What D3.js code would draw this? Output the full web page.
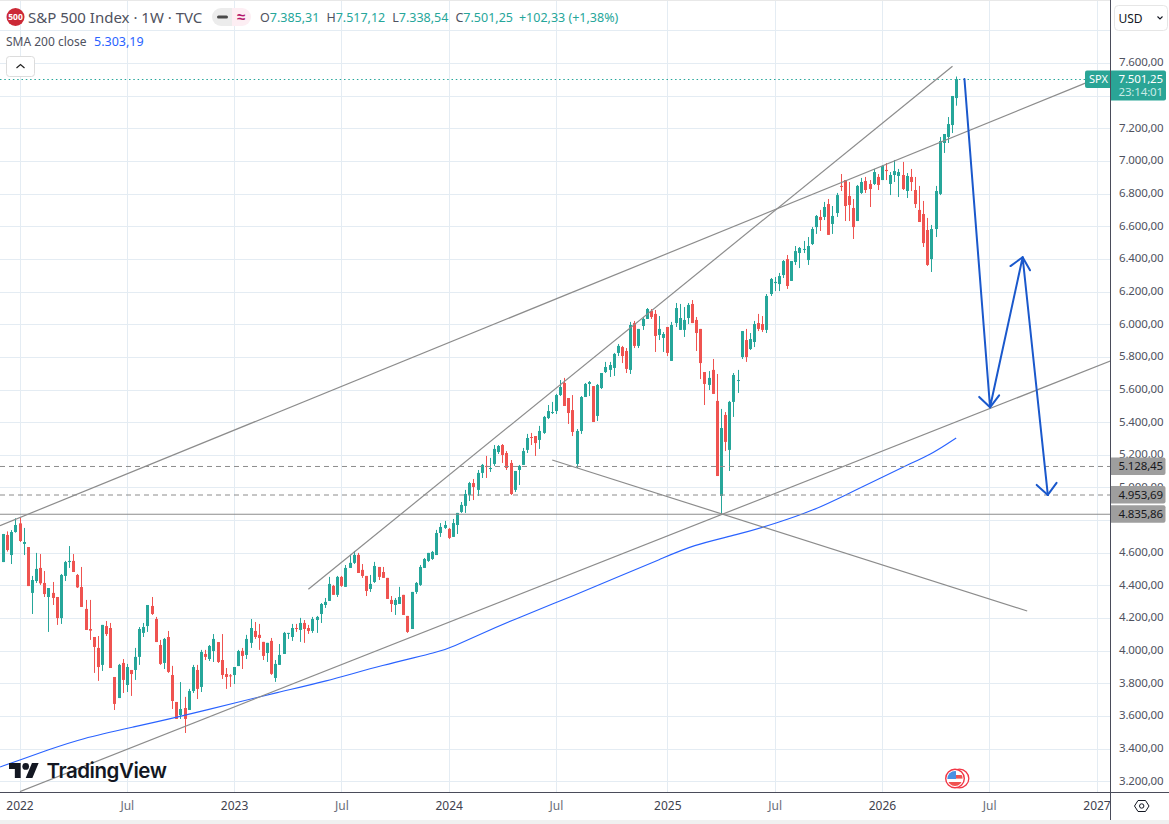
<!DOCTYPE html>
<html>
<head>
<meta charset="utf-8">
<script src="https://cdn.jsdelivr.net/npm/d3@7"></script>
<style>
  html, body { margin: 0; padding: 0; background: #fff; overflow: hidden; }
  svg { display: block; font-family: "Noto Sans", sans-serif; }
</style>
</head>
<body>
<div id="chart"></div>
<script>
// weekly candles [open, high, low, close]
var candles2021 = [
  [4543,4715,4543,4715],[4709,4731,4607,4617],[4586,4739,4531,4727],[4727,4811,4723,4770]
];
var candles2022 = [
  [4780,4817,4666,4672],[4654,4752,4586,4666],[4635,4635,4396,4396],[4354,4458,4225,4433],
  [4427,4599,4415,4501],[4507,4592,4403,4413],[4415,4488,4329,4347],[4329,4384,4115,4384],
  [4354,4421,4280,4323],[4329,4329,4158,4200],[4200,4470,4164,4464],[4458,4550,4427,4543],
  [4543,4641,4507,4550],[4550,4592,4482,4482],[4464,4470,4384,4388],[4390,4513,4268,4268],
  [4256,4311,4127,4127],[4133,4311,4066,4123],[4084,4084,3864,4023],[4017,4090,3815,3900],
  [3913,4158,3876,4158],[4151,4182,4090,4102],[4139,4170,3894,3894],[3839,3839,3637,3674],
  [3710,3919,3710,3913],[3925,3949,3741,3821],[3790,3919,3747,3900],[3882,3882,3723,3857],
  [3882,4017,3821,3962],[3962,4145,3913,4133],[4109,4170,4084,4145],[4151,4280,4115,4280],
  [4274,4329,4219,4225],[4194,4207,4053,4053],[4035,4066,3913,3919],[3925,4078,3888,4072],
  [4084,4121,3864,3870],[3851,3907,3643,3692],[3686,3686,3582,3582],[3606,3808,3582,3643],
  [3649,3717,3496,3582],[3637,3766,3637,3753],[3753,3913,3741,3900],[3882,3913,3704,3766],
  [3778,4005,3747,3992],[3980,4005,3943,3962],[3949,4035,3937,4029],[3998,4102,3931,4072],
  [4053,4053,3925,3931],[3943,4102,3827,3851],[3857,3894,3766,3839],[3849,3857,3778,3845]
];
var candles2023 = [
  [3851,3900,3796,3900],[3906,4005,3906,3998],[3999,4017,3888,3968],[3974,4097,3949,4072],
  [4048,4194,4017,4139],[4121,4176,4072,4084],[4097,4164,4005,4078],[4054,4054,3943,3968],
  [3986,4048,3931,4048],[4060,4078,3852,3858],[3833,3943,3809,3919],[3913,4041,3913,3974],
  [3980,4115,3980,4109],[4103,4109,4072,4109],[4084,4164,4060,4139],[4139,4164,4115,4133],
  [4127,4201,4054,4170],[4170,4188,4048,4133],[4139,4158,4103,4121],[4121,4207,4109,4194],
  [4188,4213,4109,4207],[4225,4292,4170,4286],[4280,4323,4262,4299],[4305,4452,4305,4409],
  [4397,4403,4342,4342],[4342,4458,4329,4452],[4452,4458,4391,4397],[4391,4525,4391,4507],
  [4507,4587,4507,4538],[4538,4611,4531,4587],[4587,4599,4476,4476],[4495,4531,4446,4458],
  [4458,4458,4335,4366],[4378,4464,4360,4409],[4421,4544,4415,4519],[4513,4513,4433,4452],
  [4482,4513,4446,4446],[4446,4446,4317,4317],[4311,4335,4237,4286],[4280,4323,4219,4311],
  [4286,4391,4286,4329],[4342,4342,4219,4219],[4213,4213,4109,4115],[4133,4360,4133,4360],
  [4360,4421,4348,4415],[4403,4525,4397,4513],[4507,4568,4507,4562],[4550,4599,4544,4599],
  [4562,4611,4556,4605],[4586,4740,4586,4721],[4721,4782,4697,4758],[4752,4795,4746,4770]
];
var candles2024 = [
  [4746,4752,4684,4691],[4697,4807,4697,4782],[4770,4844,4715,4844],[4850,4911,4844,4893],
  [4887,4985,4844,4960],[4954,5034,4917,5027],[5027,5052,4923,5003],[4985,5107,4948,5089],
  [5089,5144,5058,5138],[5132,5193,5058,5125],[5113,5181,5095,5119],[5144,5260,5132,5236],
  [5217,5260,5205,5254],[5260,5266,5150,5199],[5211,5223,5107,5119],[5150,5168,4954,4960],
  [4985,5101,4972,5101],[5107,5138,5015,5132],[5138,5242,5138,5223],[5230,5328,5211,5303],
  [5309,5334,5260,5303],[5315,5315,5193,5272],[5291,5377,5236,5346],[5334,5438,5328,5432],
  [5425,5505,5419,5468],[5456,5524,5450,5462],[5468,5573,5450,5566],[5566,5658,5560,5615],
  [5640,5671,5499,5499],[5548,5548,5389,5456],[5474,5566,5315,5340],[5144,5358,5119,5346],
  [5346,5560,5328,5554],[5554,5640,5554,5634],[5634,5652,5560,5646],[5621,5621,5401,5401],
  [5438,5634,5407,5628],[5609,5701,5603,5701],[5707,5769,5701,5738],[5720,5769,5677,5750],
  [5732,5824,5683,5818],[5824,5879,5805,5867],[5860,5867,5762,5805],[5836,5854,5701,5726],
  [5720,6014,5695,5995],[6007,6020,5854,5867],[5867,5971,5854,5971],[5989,6044,5965,6032],
  [6032,6099,6032,6093],[6081,6093,6032,6044],[6063,6087,5830,5928],[5934,6050,5903,5971],
  [5916,5952,5830,5940]
];
var candles2025 = [
  [5983,5983,5805,5824],[5775,6014,5775,5995],[6007,6130,5983,6099],[5965,6124,5965,6038],
  [5965,6105,5922,6026],[6038,6130,6001,6118],[6124,6148,6007,6007],[6026,6044,5836,5946],
  [5971,5971,5664,5762],[5707,5707,5505,5634],[5628,5713,5597,5671],[5720,5787,5573,5573],
  [5530,5695,5070,5070],[4948,5481,4835,5364],[5444,5462,5223,5279],[5230,5530,5101,5524],
  [5524,5701,5432,5689],[5654,5720,5579,5658],[5799,5958,5787,5958],[5903,5971,5769,5799],
  [5848,5946,5842,5909],[5891,6020,5860,6001],[6007,6063,5958,5971],[6001,6050,5952,5965],
  [5965,6185,5946,6173],[6185,6283,6173,6277],[6252,6289,6203,6259],[6246,6314,6203,6295],
  [6301,6393,6283,6387],[6399,6424,6216,6234],[6265,6387,6265,6387],[6381,6479,6363,6448],
  [6436,6473,6344,6467],[6455,6510,6436,6461],[6393,6534,6363,6479],[6491,6595,6485,6583],
  [6595,6669,6553,6663],[6657,6700,6571,6638],[6657,6749,6638,6718],[6736,6767,6547,6547],
  [6614,6724,6553,6663],[6681,6804,6657,6791],[6847,6920,6816,6843],[6883,6883,6632,6724],
  [6785,6871,6632,6730],[6712,6767,6522,6595],[6632,6853,6632,6847],[6804,6896,6798,6871],
  [6877,6902,6804,6822],[6859,6883,6718,6828],[6859,6951,6853,6932],[6902,6920,6822,6853]
];
var candles2026 = [
  [6883,6975,6883,6969],[6945,6987,6883,6938],[6859,6932,6791,6914],[6914,7006,6871,6938],
  [6908,6951,6779,6932],[6914,6994,6822,6828],[6816,6926,6773,6908],[6902,6951,6816,6871],
  [6822,6902,6712,6736],[6700,6847,6626,6626],[6675,6755,6473,6497],[6577,6651,6357,6363],
  [6399,6608,6320,6583],[6583,6847,6534,6816],[6798,7147,6791,7122],[7110,7165,7049,7165],
  [7147,7269,7110,7226],[7220,7398,7171,7398],[7385.31,7517.12,7338.54,7501.25]
];

// SMA 200 close, read at a few weeks (week number counted from firstWeek)
var smaWeeks = [-4.7,0.1,6.9,14.7,28,37.2,53.5,63.2,73.6,88.1,102,105,111.6,121.3,134.7,145.6,155.3,163.2,173.8,183.5,192.3,200.2,209,215.2,221.4,227];
var smaValues = [3288,3331,3392,3460,3535,3586,3688,3749,3807,3913,3994,4025,4101,4207,4341,4458,4560,4648,4709,4781,4858,4954,5062,5138,5209,5303.19];

// drawings on the chart, [week, price]
var trendLines = [
  [[-4.73,4766],[258.3,7477]],
  [[70,4376],[226.1,7580]],
  [[0.12,3137],[264.4,5775]],
  [[129.1,5168],[244.2,4243]]
];
var arrowLeg = [[229,7502],[235.2,5491],[243.1,6410],[249.2,4954]];
var dashedLevels = [5128.45,4953.69];
var solidLevels = [4835.86];
var lastPrice = 7501.25;

// axis ticks
var xTickDates = ["2022-01-03","2022-07-04","2023-01-02","2023-07-03","2024-01-01","2024-07-01","2025-01-06","2025-07-07","2026-01-05","2026-07-06","2027-01-04"];
var xTickLabels = ["2022","Jul","2023","Jul","2024","Jul","2025","Jul","2026","Jul","2027"];
var yGridTicks = [3200,3400,3600,3800,4000,4200,4400,4600,4800,5000,5200,5400,5600,5800,6000,6200,6400,6600,6800,7000,7200,7400,7600,7800];
// 4800 and 7400 sit behind the price tags
var yLabelTicks = [3200,3400,3600,3800,4000,4200,4400,4600,5000,5200,5400,5600,5800,6000,6200,6400,6600,6800,7000,7200,7600];

var width = 1169, height = 824, plotRight = 1110, plotBottom = 792;
var firstWeek = Date.UTC(2022, 0, 3);
var upColor = "#26a69a", downColor = "#ef5350", gridColor = "#e4ecf3", drawColor = "#8c8c8c", arrowColor = "#1a58cc", axisColor = "#4a4c5a", textColor = "#4f5260";

function weekDate(w) { return new Date(firstWeek + w * 7 * 864e5); }
// price with dot thousands and comma decimals
function priceFmt(v) {
  return d3.format(",.2f")(v).replace(/,/g, "#").replace(".", ",").replace(/#/g, ".");
}

var x = d3.scaleUtc()
  .domain([new Date(firstWeek), new Date(Date.UTC(2027, 0, 4))])
  .range([19.5, 1096.5]);
var y = d3.scaleLinear()
  .domain([3200, 7200])
  .range([781.3, 128.3]);

var svg = d3.select("#chart").append("svg")
  .attr("width", width)
  .attr("height", height)
  .attr("viewBox", "0 0 " + width + " " + height);

svg.append("rect").attr("width", width).attr("height", height).attr("fill", "#fff");
svg.append("clipPath").attr("id", "plotClip").append("rect")
  .attr("width", plotRight).attr("height", plotBottom);

// grid
var grid = svg.append("g");
grid.selectAll(".gx").data(xTickDates).enter().append("line")
  .attr("x1", function(d) { return Math.round(x(new Date(d))) + 0.5; })
  .attr("x2", function(d) { return Math.round(x(new Date(d))) + 0.5; })
  .attr("y1", 0).attr("y2", plotBottom)
  .attr("stroke", gridColor);
grid.selectAll(".gy").data(yGridTicks).enter().append("line")
  .attr("x1", 0).attr("x2", plotRight)
  .attr("y1", function(d) { return Math.round(y(d)) + 0.5; })
  .attr("y2", function(d) { return Math.round(y(d)) + 0.5; })
  .attr("stroke", gridColor);
svg.append("line").attr("x1", 0).attr("x2", width).attr("y1", 0.5).attr("y2", 0.5).attr("stroke", "#e8e8e8");

var plot = svg.append("g").attr("clip-path", "url(#plotClip)");

// candles
var candles = [].concat(candles2021, candles2022, candles2023, candles2024, candles2025, candles2026)
  .map(function(c, i) {
    return { date: weekDate(i - 4), open: c[0], high: c[1], low: c[2], close: c[3] };
  });
function candleColor(d) { return d.close >= d.open ? upColor : downColor; }
function candleX(d) { return Math.round(x(d.date)); }

var candle = plot.append("g").selectAll("g").data(candles).enter().append("g");
candle.append("rect")
  .attr("x", function(d) { return candleX(d); })
  .attr("width", 1)
  .attr("y", function(d) { return y(d.high); })
  .attr("height", function(d) { return y(d.low) - y(d.high); })
  .attr("fill", candleColor);
candle.append("rect")
  .attr("x", function(d) { return candleX(d) - 1; })
  .attr("width", 3)
  .attr("y", function(d) { return y(Math.max(d.open, d.close)); })
  .attr("height", function(d) { return Math.max(1, Math.abs(y(d.open) - y(d.close))); })
  .attr("fill", candleColor);

// SMA 200
var priceLine = d3.line()
  .x(function(d) { return x(weekDate(d[0])); })
  .y(function(d) { return y(d[1]); });
var smaLine = d3.line()
  .x(function(d) { return x(weekDate(d[0])); })
  .y(function(d) { return y(d[1]); })
  .curve(d3.curveBasis);
plot.append("path")
  .attr("d", smaLine(d3.zip(smaWeeks, smaValues)))
  .attr("fill", "none")
  .attr("stroke", "#2962ff")
  .attr("stroke-width", 1.1);

// current price dotted line
plot.append("line")
  .attr("x1", 0).attr("x2", 1085)
  .attr("y1", Math.round(y(lastPrice)) + 0.5).attr("y2", Math.round(y(lastPrice)) + 0.5)
  .attr("stroke", "#26a69a")
  .attr("stroke-dasharray", "1.5 2.8");

// levels
plot.selectAll(".dash").data(dashedLevels).enter().append("line")
  .attr("x1", 0).attr("x2", plotRight)
  .attr("y1", function(d) { return y(d); }).attr("y2", function(d) { return y(d); })
  .attr("stroke", drawColor).attr("stroke-width", 1).attr("stroke-dasharray", "5 4");
plot.selectAll(".solid").data(solidLevels).enter().append("line")
  .attr("x1", 0).attr("x2", plotRight)
  .attr("y1", function(d) { return y(d); }).attr("y2", function(d) { return y(d); })
  .attr("stroke", drawColor).attr("stroke-width", 1.2);

// trend lines
plot.selectAll(".trend").data(trendLines).enter().append("path")
  .attr("d", priceLine)
  .attr("fill", "none")
  .attr("stroke", drawColor)
  .attr("stroke-width", 1.2);

// projected move arrows
var arrows = plot.append("g").attr("fill", "none").attr("stroke", arrowColor)
  .attr("stroke-width", 2).attr("stroke-linecap", "round").attr("stroke-linejoin", "round");
arrows.append("path").attr("d", priceLine(arrowLeg));
d3.pairs(arrowLeg).forEach(function(p) {
  var x0 = x(weekDate(p[0][0])), y0 = y(p[0][1]), x1 = x(weekDate(p[1][0])), y1 = y(p[1][1]);
  var a = Math.atan2(y0 - y1, x0 - x1);
  [-0.73, 0.73].forEach(function(off) {
    arrows.append("line")
      .attr("x1", x1).attr("y1", y1)
      .attr("x2", x1 + 15 * Math.cos(a + off))
      .attr("y2", y1 + 15 * Math.sin(a + off));
  });
});

// TradingView logo
var logo = svg.append("g").attr("transform", "translate(9,759.7) scale(0.835)");
logo.append("path").attr("fill", "#131722")
  .attr("d", "M14 22H7V11H0V4h14v18zM28 22h-8l7.5-18h8L28 22z");
logo.append("circle").attr("cx", 20).attr("cy", 8).attr("r", 4).attr("fill", "#131722");
svg.append("text").attr("x", 46.5).attr("y", 778)
  .attr("font-family", "Inter").attr("font-weight", 600).attr("font-size", 20.5).attr("fill", "#131722")
  .attr("letter-spacing", -0.45)
  .text("TradingView");

// flag badge
svg.append("circle").attr("cx", 959.5).attr("cy", 778.5).attr("r", 9.3)
  .attr("fill", "#fff").attr("stroke", "#f23645").attr("stroke-width", 1.3);
svg.append("clipPath").attr("id", "flagClip").append("circle").attr("cx", 955).attr("cy", 778.5).attr("r", 7.6);
svg.append("circle").attr("cx", 955).attr("cy", 778.5).attr("r", 9.3)
  .attr("fill", "#fff").attr("stroke", "#f23645").attr("stroke-width", 1.4);
var flag = svg.append("g").attr("clip-path", "url(#flagClip)");
flag.append("rect").attr("x", 947).attr("y", 770).attr("width", 17).attr("height", 17).attr("fill", "#fff");
flag.append("rect").attr("x", 955).attr("y", 775).attr("width", 9).attr("height", 3.6).attr("fill", "#f0524f");
flag.append("rect").attr("x", 947).attr("y", 782).attr("width", 17).attr("height", 6).attr("fill", "#f0524f");
flag.append("rect").attr("x", 947).attr("y", 770).attr("width", 9).attr("height", 9).attr("fill", "#4a90e2");

// x axis
svg.append("rect").attr("x", 0).attr("y", plotBottom).attr("width", width).attr("height", height - plotBottom).attr("fill", "#fff");
var xAxis = svg.append("g")
  .attr("transform", "translate(0," + plotBottom + ")")
  .call(d3.axisBottom(x)
    .tickValues(xTickDates.map(function(d) { return new Date(d); }))
    .tickSize(0)
    .tickPadding(9)
    .tickFormat(function(d, i) { return xTickLabels[i]; }));
xAxis.select(".domain").remove();
xAxis.selectAll("text")
  .attr("font-family", '"Noto Sans", sans-serif')
  .attr("font-size", 12)
  .attr("fill", function(d, i) { return xTickLabels[i] === "Jul" ? "#6a6d78" : "#3f424e"; });

// y axis
svg.append("rect").attr("x", plotRight).attr("y", 0).attr("width", width - plotRight).attr("height", height).attr("fill", "#fff");
var yAxis = svg.append("g")
  .attr("transform", "translate(" + plotRight + ",0)")
  .call(d3.axisRight(y).tickValues(yLabelTicks).tickSize(0).tickPadding(9).tickFormat(priceFmt));
yAxis.select(".domain").remove();
yAxis.selectAll("text")
  .attr("font-family", '"Noto Sans", sans-serif')
  .attr("font-size", 11.5)
  .attr("letter-spacing", -0.15)
  .attr("dy", "0.25em")
  .attr("fill", textColor);

// frame lines
svg.append("line").attr("x1", 0).attr("x2", width).attr("y1", plotBottom + 0.5).attr("y2", plotBottom + 0.5).attr("stroke", axisColor);
svg.append("line").attr("x1", plotRight + 0.5).attr("x2", plotRight + 0.5).attr("y1", 0).attr("y2", 820).attr("stroke", axisColor);
svg.append("rect").attr("x", 0).attr("y", 820).attr("width", width).attr("height", 4).attr("fill", "#f0f0f0");

// price labels on the axis
function axisTag(v) {
  var top = y(v) - 9;
  svg.append("path")
    .attr("d", "M" + (plotRight + 1) + " " + top + "h52.5q2 0 2 2v13.5q0 2 -2 2h-52.5z")
    .attr("fill", "#9e9e9e");
  svg.append("text").attr("x", 1118.5).attr("y", top + 13)
    .attr("font-size", 11.5).attr("letter-spacing", -0.15).attr("fill", "#17181c").text(priceFmt(v));
}
dashedLevels.concat(solidLevels).forEach(axisTag);

// last price tag
var lastY = y(lastPrice);
svg.append("path")
  .attr("d", "M1085 " + (lastY - 6.5) + "q0 -2 2 -2h23v17.5h-23q-2 0 -2 -2z")
  .attr("fill", "#2aa596");
svg.append("text").attr("x", 1089).attr("y", lastY + 4)
  .attr("font-size", 11).attr("fill", "#fff").text("SPX");
svg.append("path")
  .attr("d", "M1111 " + (lastY - 8.5) + "h53q2 0 2 2v26q0 2 -2 2h-53z")
  .attr("fill", "#2aa596");
svg.append("text").attr("x", 1118.5).attr("y", lastY + 4)
  .attr("font-size", 11.5).attr("letter-spacing", -0.15).attr("fill", "#fff").text(priceFmt(lastPrice));
svg.append("text").attr("x", 1118.5).attr("y", lastY + 17)
  .attr("font-size", 11.5).attr("letter-spacing", -0.15).attr("fill", "#c9ebe6").text("23:14:01");

// USD button
svg.append("rect").attr("x", 1114.5).attr("y", 5.5).attr("width", 53).attr("height", 25).attr("rx", 4)
  .attr("fill", "#fff").attr("stroke", "#e6e6e6");
svg.append("text").attr("x", 1118.5).attr("y", 22.5).attr("font-size", 12).attr("fill", "#131722").text("USD");
svg.append("path").attr("d", "M1157.5 16.5l2.5 2.5l2.5 -2.5").attr("fill", "none").attr("stroke", "#131722").attr("stroke-width", 1.1);

// settings icon
svg.append("path").attr("d", "M1134.5 806l3.5 -5.5h7.5l3.5 5.5l-3.5 5.5h-7.5z")
  .attr("fill", "none").attr("stroke", "#131722").attr("stroke-width", 1);
svg.append("circle").attr("cx", 1141.7).attr("cy", 806).attr("r", 2.2)
  .attr("fill", "none").attr("stroke", "#131722").attr("stroke-width", 1);

// legend
svg.append("circle").attr("cx", 15.5).attr("cy", 17).attr("r", 9).attr("fill", "#cc2936");
svg.append("text").attr("x", 15.5).attr("y", 20).attr("text-anchor", "middle")
  .attr("font-size", 8.5).attr("font-weight", 700).attr("fill", "#fff").text("500");
svg.append("text").attr("x", 28).attr("y", 23)
  .attr("font-size", 15).attr("fill", textColor).text("S&P 500 Index · 1W · TVC");

svg.append("path").attr("d", "M232 8h-11a9 9 0 0 0 0 18h11z").attr("fill", "#ececec");
svg.append("path").attr("d", "M232 8h10a9 9 0 0 1 0 18h-10z").attr("fill", "#fdeef3");
svg.append("rect").attr("x", 217).attr("y", 15.5).attr("width", 11).attr("height", 3).attr("rx", 1.5).attr("fill", "#4a4a4a");
svg.append("text").attr("x", 241).attr("y", 22).attr("text-anchor", "middle")
  .attr("font-size", 15).attr("font-weight", 700).attr("fill", "#b5176b").text("≈");

var ohlcLabels = ["O", "H", "L", "C"];
var ohlcValues = ["7.385,31", "7.517,12", "7.338,54", "7.501,25"];
var ohlc = svg.append("text").attr("x", 260).attr("y", 22).attr("font-size", 12.5);
ohlcLabels.forEach(function(l, i) {
  ohlc.append("tspan").attr("fill", textColor).attr("dx", i ? 7 : 0).text(l);
  ohlc.append("tspan").attr("fill", upColor).text(ohlcValues[i]);
});
ohlc.append("tspan").attr("fill", upColor).attr("dx", 6).text("+102,33 (+1,38%)");

svg.append("text").attr("x", 6).attr("y", 46).attr("font-size", 12).attr("fill", textColor).text("SMA 200 close");
svg.append("text").attr("x", 94).attr("y", 46).attr("font-size", 12.5).attr("fill", "#2962ff").text("5.303,19");

// collapse button
svg.append("rect").attr("x", 6.5).attr("y", 56.5).attr("width", 28).attr("height", 20).attr("rx", 3)
  .attr("fill", "#fff").attr("stroke", "#dcdcdc");
svg.append("path").attr("d", "M16.5 68l4 -3.5l4 3.5").attr("fill", "none").attr("stroke", "#222").attr("stroke-width", 1.2);
</script>
</body>
</html>
